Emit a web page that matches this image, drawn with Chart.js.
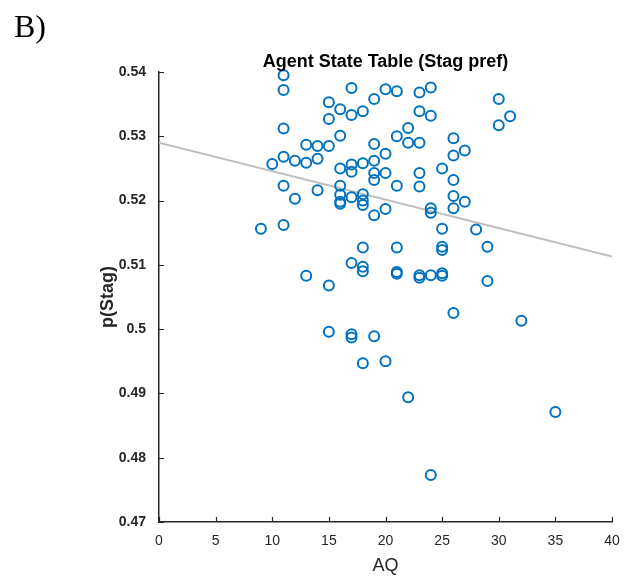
<!DOCTYPE html>
<html>
<head>
<meta charset="utf-8">
<script src="https://cdn.jsdelivr.net/npm/chart.js@4.4.1/dist/chart.umd.min.js"></script>
<style>
  body { margin: 0; background: #fff; }
  #wrap { position: relative; width: 632px; height: 583px; }
  #panel { position: absolute; left: 14px; top: 8px; font: 32px "Liberation Serif", "Times New Roman", serif; color: #000; }
  canvas { position: absolute; left: 0; top: 0; }
</style>
</head>
<body>
<div id="wrap">
  <canvas id="scatter" width="632" height="583"></canvas>
  <div id="panel">B)</div>
</div>
<script>
// AQ score and p(Stag) for every agent
const aq = [
  9,
  10,
  11, 11, 11, 11, 11, 11,
  12, 12,
  13, 13, 13,
  14, 14, 14,
  15, 15, 15, 15, 15,
  16, 16, 16, 16, 16, 16, 16,
  17, 17, 17, 17, 17, 17, 17, 17,
  18, 18, 18, 18, 18, 18, 18, 18, 18,
  19, 19, 19, 19, 19, 19, 19,
  20, 20, 20, 20, 20,
  21, 21, 21, 21, 21, 21,
  22, 22, 22,
  23, 23, 23, 23, 23, 23, 23,
  24, 24, 24, 24, 24, 24,
  25, 25, 25, 25, 25, 25,
  26, 26, 26, 26, 26, 26,
  27, 27,
  28,
  29, 29,
  30, 30,
  31,
  32,
  35
];
const pStag = [
  0.5156,
  0.5257,
  0.5395, 0.5372, 0.5312, 0.5268, 0.5223, 0.5162,
  0.5262, 0.5203,
  0.5287, 0.5259, 0.5083,
  0.5285, 0.5265, 0.5216,
  0.5353, 0.5327, 0.5285, 0.5068, 0.4996,
  0.5342, 0.5301, 0.5250, 0.5223, 0.5209, 0.5198, 0.5195,
  0.5375, 0.5333, 0.5256, 0.5245, 0.5205, 0.5103, 0.4992, 0.4987,
  0.5339, 0.5258, 0.5210, 0.5200, 0.5193, 0.5127, 0.5097, 0.5090, 0.4947,
  0.5358, 0.5288, 0.5262, 0.5243, 0.5232, 0.5177, 0.4989,
  0.5373, 0.5273, 0.5243, 0.5187, 0.4950,
  0.5370, 0.5300, 0.5223, 0.5127, 0.5089, 0.5086,
  0.5313, 0.5290, 0.4894,
  0.5368, 0.5339, 0.5290, 0.5243, 0.5222, 0.5084, 0.5080,
  0.5376, 0.5332, 0.5188, 0.5181, 0.5084, 0.4773,
  0.5250, 0.5156, 0.5128, 0.5123, 0.5087, 0.5083,
  0.5297, 0.5270, 0.5232, 0.5207, 0.5188, 0.5025,
  0.5278, 0.5198,
  0.5155,
  0.5128, 0.5075,
  0.5358, 0.5317,
  0.5331,
  0.5013,
  0.4871
];

// least-squares line end points
const fitX = [0, 40];
const fitY = [0.5290, 0.5113];

const xTickLabels = ['0', '5', '10', '15', '20', '25', '30', '35', '40'];
const yTickLabels = ['0.47', '0.48', '0.49', '0.5', '0.51', '0.52', '0.53', '0.54'];

const axisColor = '#262626';
Chart.defaults.font.family = '"Liberation Sans", Arial, Helvetica, sans-serif';
Chart.defaults.color = axisColor;

// MATLAB style: short tick marks pointing into the axes, plus the title
const matlabAxes = {
  id: 'matlabAxes',
  afterDraw(chart) {
    const { ctx, chartArea, scales } = chart;
    ctx.save();
    ctx.strokeStyle = axisColor;
    ctx.lineWidth = 1.2;
    ctx.beginPath();
    scales.x.ticks.forEach(t => {
      const px = Math.round(scales.x.getPixelForValue(t.value)) + 0.5;
      ctx.moveTo(px, chartArea.bottom);
      ctx.lineTo(px, chartArea.bottom - 5);
    });
    scales.y.ticks.forEach(t => {
      const py = Math.round(scales.y.getPixelForValue(t.value)) + 0.5;
      ctx.moveTo(chartArea.left, py);
      ctx.lineTo(chartArea.left + 5, py);
    });
    ctx.stroke();

    ctx.fillStyle = '#000';
    ctx.font = 'bold 18px "Liberation Sans", Arial, sans-serif';
    ctx.textAlign = 'center';
    ctx.textBaseline = 'alphabetic';
    ctx.fillText('Agent State Table (Stag pref)', (chartArea.left + chartArea.right) / 2, 67);
    ctx.restore();
  }
};

new Chart(document.getElementById('scatter'), {
  type: 'scatter',
  data: {
    datasets: [
      {
        label: 'agents',
        data: aq.map((v, i) => ({ x: v, y: pStag[i] })),
        pointStyle: 'circle',
        pointRadius: 5,
        pointBorderWidth: 2,
        borderColor: '#0072BD',
        backgroundColor: 'rgba(0,0,0,0)',
        clip: false,
        order: 1
      },
      {
        type: 'line',
        label: 'fit',
        data: fitX.map((v, i) => ({ x: v, y: fitY[i] })),
        borderColor: '#BFBFBF',
        borderWidth: 2,
        pointRadius: 0,
        fill: false,
        order: 2
      }
    ]
  },
  options: {
    responsive: false,
    animation: false,
    layout: { padding: { top: 72, right: 20, left: 0, bottom: 0 } },
    plugins: {
      legend: { display: false },
      tooltip: { enabled: false },
      title: { display: false }
    },
    scales: {
      x: {
        type: 'linear',
        min: 0,
        max: 40,
        grid: { display: false, drawTicks: false },
        border: { display: true, color: axisColor, width: 1.5 },
        ticks: {
          stepSize: 5,
          padding: 11,
          font: { size: 14 },
          color: axisColor,
          maxRotation: 0,
          callback: v => xTickLabels[Math.round(v / 5)]
        },
        title: {
          display: true,
          text: 'AQ',
          font: { size: 18 },
          color: axisColor,
          padding: { top: 0, bottom: 6 }
        },
        afterFit: s => { s.height = 61; }
      },
      y: {
        type: 'linear',
        min: 0.47,
        max: 0.54,
        grid: { display: false, drawTicks: false },
        border: { display: true, color: axisColor, width: 1.5 },
        ticks: {
          stepSize: 0.01,
          padding: 13,
          font: { size: 14, weight: 'bold' },
          color: axisColor,
          callback: v => yTickLabels[Math.round((v - 0.47) * 100)]
        },
        title: {
          display: true,
          text: 'p(Stag)',
          font: { size: 18, weight: 'bold' },
          color: axisColor,
          padding: { top: 97, bottom: 0 }
        },
        afterFit: s => { s.width = 159; }
      }
    }
  },
  plugins: [matlabAxes]
});
</script>
</body>
</html>
